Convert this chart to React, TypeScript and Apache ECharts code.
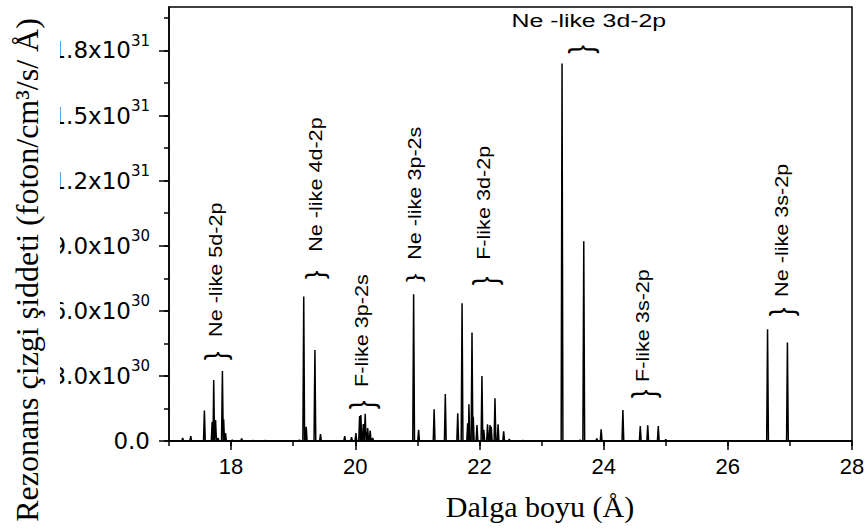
import React, { useEffect, useRef } from "react";
import * as echarts from "echarts";

// ---- data (intensity in units of 1e30 foton/cm^3/s/Å) ----
const UNIT = 1e30;
const peakWavelengths = [
  17.22, 17.35, 17.57, 17.695, 17.72, 17.75, 17.79, 17.86, 17.88, 17.91, 18.02, 18.17, 18.35, 18.55,
  19.1, 19.17, 19.21, 19.35, 19.44, 19.83, 19.94, 20.01, 20.07, 20.09, 20.13, 20.16, 20.2, 20.24, 20.28,
  20.94, 21.02, 21.27, 21.45, 21.65, 21.72, 21.81, 21.83, 21.88, 21.9, 21.96, 22.04, 22.07, 22.13,
  22.17, 22.19, 22.25, 22.3, 22.39, 22.48, 22.7, 23.33, 23.62, 23.68, 23.89, 23.96, 24.31, 24.59,
  24.71, 24.88, 25.0, 25.17, 26.64, 26.96,
];
const peakIntensities = [
  0.14, 0.23, 1.4, 0.89, 2.81, 0.97, 0.14, 3.23, 1.0, 0.37, 0.05, 0.12, 0.03, 0.03,
  0.05, 6.66, 0.66, 4.19, 0.32, 0.23, 0.18, 0.37, 1.15, 1.2, 0.78, 1.25, 0.6, 0.48, 0.14,
  6.76, 0.51, 1.46, 2.16, 1.28, 6.35, 0.82, 1.69, 5.0, 1.12, 0.74, 3.0, 0.51, 0.77,
  0.74, 0.66, 1.97, 0.77, 0.45, 0.09, 0.03, 17.4, 0.05, 9.2, 0.12, 0.54, 1.43, 0.69,
  0.72, 0.69, 0.08, 0.02, 5.15, 4.54,
];
const PEAK_HALF_WIDTH = 0.014;

const xMin = 17;
const xMax = 28;
const xMajorTicks = [18, 20, 22, 24, 26, 28];
const xMinorTicks = [17, 18, 19, 20, 21, 22, 23, 24, 25, 26, 27, 28];

const yMax = 20;
const yTickValues = [0, 3, 6, 9, 12, 15, 18];
const yTickMantissas = ["0.0", "3.0", "6.0", "9.0", "1.2", "1.5", "1.8"];
const yTickExponents = ["", "30", "30", "30", "31", "31", "31"];
const yMinorTicks = [0, 1.5, 3, 4.5, 6, 7.5, 9, 10.5, 12, 13.5, 15, 16.5, 18, 19.5];

const annotationLabels = [
  "Ne -like 5d-2p",
  "Ne -like 4d-2p",
  "F-like 3p-2s",
  "Ne -like 3p-2s",
  "F-like 3d-2p",
  "Ne -like 3d-2p",
  "F-like 3s-2p",
  "Ne -like 3s-2p",
];
const annotationX = [17.755, 19.361, 20.099, 20.951, 22.075, 23.632, 24.628, 26.861];
const annotationY = [3.92, 7.66, 1.66, 7.52, 7.38, 18.04, 2.17, 5.95];

const xTitle = "Dalga boyu (Å)";
const yTitle = "Rezonans çizgi şiddeti (foton/cm³/s/ Å)";

// layout / style (pixels)
const braceWidths = [30, 25, 33, 20, 34, 33, 32, 32];
const labelGaps = [19, 23, 18, 18, 21, 29, 12, 15];
const labelRotated = [true, true, true, true, true, false, true, true];

function buildLine(): [number, number][] {
  const pts: [number, number][] = [[xMin, 0]];
  peakWavelengths.forEach((w, i) => {
    pts.push([w - PEAK_HALF_WIDTH, 0]);
    pts.push([w, peakIntensities[i] * UNIT]);
    pts.push([w + PEAK_HALF_WIDTH, 0]);
  });
  pts.push([xMax, 0]);
  return pts;
}

const SANS = "'Liberation Sans', Arial, sans-serif";
const SERIF = "'Liberation Serif', 'Times New Roman', serif";

export default function App() {
  const ref = useRef<HTMLDivElement>(null);
  useEffect(() => {
    if (!ref.current) return;
    const chart = echarts.init(ref.current, null, { renderer: "svg" });
    const axisLine = { show: true, lineStyle: { color: "#000", width: 1.5 } };
    const option: any = {
      animation: false,
      backgroundColor: "#fff",
      grid: {
        left: 169,
        right: 14,
        top: 7,
        bottom: 88,
        show: true,
        borderColor: "#000",
        borderWidth: 1.5,
        backgroundColor: "transparent",
        outerBoundsMode: "none",
      },
      xAxis: [
        {
          type: "value",
          min: xMin,
          max: xMax,
          position: "bottom",
          axisLine,
          axisTick: { show: true, inside: false, length: 5, customValues: xMinorTicks, lineStyle: { color: "#000", width: 1.5 } },
          axisLabel: { show: false },
          splitLine: { show: false },
        },
        {
          type: "value",
          min: xMin,
          max: xMax,
          position: "bottom",
          axisLine: { show: false },
          axisTick: { show: true, inside: false, length: 9, customValues: xMajorTicks, lineStyle: { color: "#000", width: 1.5 } },
          axisLabel: {
            show: true,
            customValues: xMajorTicks,
            margin: 14,
            color: "#000",
            fontSize: 22,
            fontFamily: SANS,
            formatter: (v: number) => String(v),
          },
          splitLine: { show: false },
        },
      ],
      yAxis: [
        {
          type: "value",
          min: 0,
          max: yMax * UNIT,
          position: "left",
          axisLine,
          axisTick: { show: true, inside: false, length: 5, customValues: yMinorTicks.map((v) => v * UNIT), lineStyle: { color: "#000", width: 1.5 } },
          axisLabel: { show: false },
          splitLine: { show: false },
        },
        {
          type: "value",
          min: 0,
          max: yMax * UNIT,
          position: "left",
          axisLine: { show: false },
          axisTick: { show: true, inside: false, length: 10, customValues: yTickValues.map((v) => v * UNIT), lineStyle: { color: "#000", width: 1.5 } },
          axisLabel: {
            show: true,
            customValues: yTickValues.map((v) => v * UNIT),
            margin: 19,
            formatter: (v: number) => {
              const idx = yTickValues.findIndex((t) => Math.abs(t * UNIT - v) < UNIT * 0.01);
              if (idx < 0) return "";
              if (!yTickExponents[idx]) return `{m|${yTickMantissas[idx]}}`;
              return `{m|${yTickMantissas[idx]}x10}{e|${yTickExponents[idx]}}`;
            },
            rich: {
              m: { fontSize: 23, fontFamily: "'DejaVu Sans', sans-serif", color: "#000", lineHeight: 34 },
              e: { fontSize: 15, fontFamily: "'DejaVu Sans', sans-serif", color: "#000", verticalAlign: "top", lineHeight: 15 },
            },
          },
          splitLine: { show: false },
        },
      ],
      series: [
        {
          type: "line",
          xAxisIndex: 0,
          yAxisIndex: 0,
          data: buildLine(),
          showSymbol: false,
          symbol: "none",
          lineStyle: { color: "#000", width: 1.5 },
          silent: true,
        },
      ],
    };
    chart.setOption(option);

    const graphics: any[] = [];
    graphics.push({
      type: "rect",
      shape: { x: 0, y: 0, width: 60, height: 529 },
      style: { fill: "#fff" },
      z: 50,
    });
    graphics.push({
      type: "text",
      x: 27,
      y: 270,
      rotation: Math.PI / 2,
      z: 60,
      style: { text: yTitle, fontSize: 32, fontFamily: SERIF, fill: "#000", align: "center", verticalAlign: "middle" },
    });
    graphics.push({
      type: "text",
      x: 540,
      y: 506,
      z: 60,
      style: { text: xTitle, fontSize: 30, fontFamily: SERIF, fill: "#000", align: "center", verticalAlign: "middle" },
    });
    annotationLabels.forEach((label, i) => {
      const p = chart.convertToPixel({ gridIndex: 0 }, [annotationX[i], annotationY[i] * UNIT]) as number[];
      if (!p) return;
      const [px, py] = p;
      graphics.push({
        type: "text",
        x: px,
        y: py,
        rotation: Math.PI / 2,
        scaleY: braceWidths[i] / 26,
        z: 60,
        style: { text: "}", fontSize: 26, fontFamily: SANS, fill: "#000", align: "center", verticalAlign: "middle" },
      });
      if (labelRotated[i]) {
        graphics.push({
          type: "text",
          x: px,
          y: py - labelGaps[i],
          rotation: Math.PI / 2,
          scaleX: 1.2,
          z: 60,
          style: { text: label, fontSize: 18, fontFamily: SANS, fill: "#000", align: "left", verticalAlign: "middle" },
        });
      } else {
        graphics.push({
          type: "text",
          x: px + 8,
          y: py - labelGaps[i],
          scaleX: 1.38,
          z: 60,
          style: { text: label, fontSize: 18, fontFamily: SANS, fill: "#000", align: "center", verticalAlign: "middle" },
        });
      }
    });
    chart.setOption({ graphic: graphics });

    return () => chart.dispose();
  }, []);
  return <div ref={ref} style={{ width: 866, height: 529, position: "absolute", left: 0, top: 0 }} />;
}
